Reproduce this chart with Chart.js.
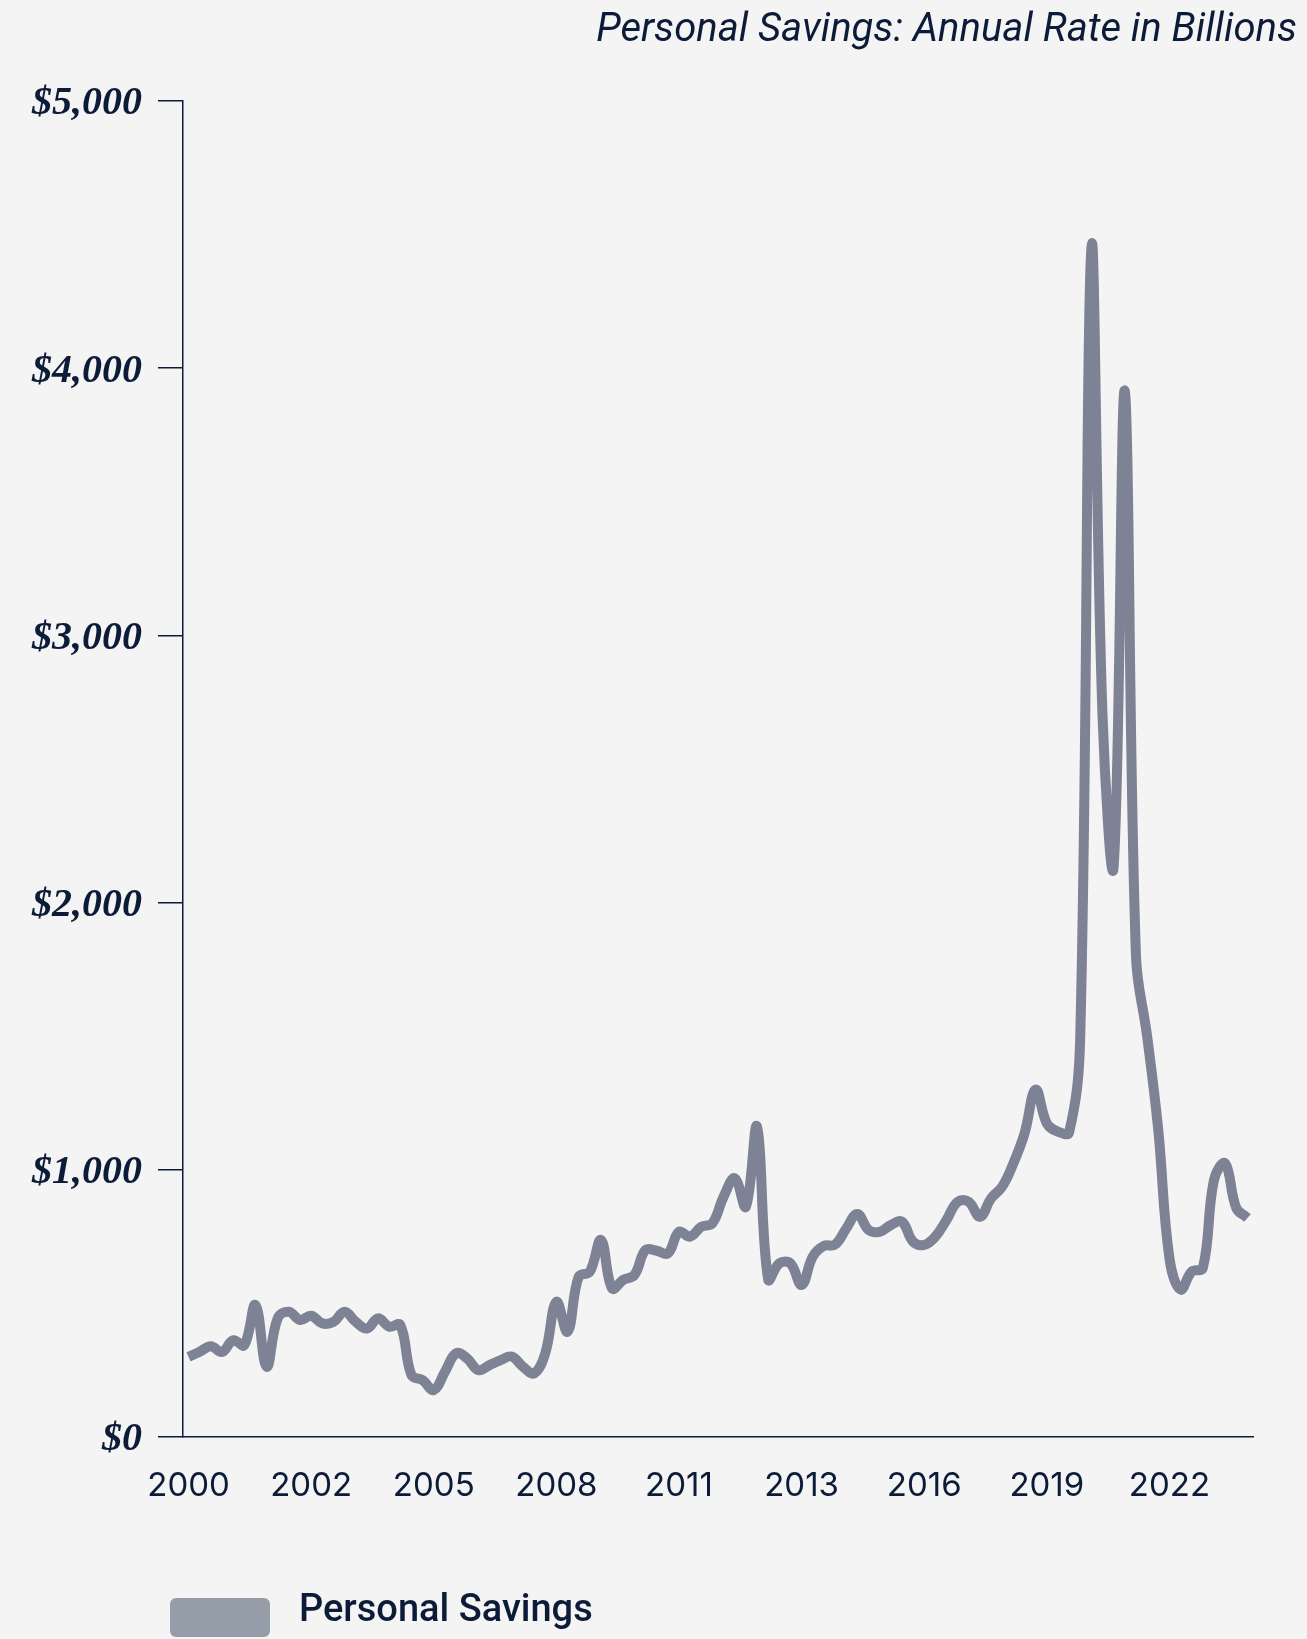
<!DOCTYPE html>
<html>
<head>
<meta charset="utf-8">
<title>Personal Savings</title>
<script src="https://cdn.jsdelivr.net/npm/chart.js@4.4.1/dist/chart.umd.min.js"></script>
<style>
  html, body { margin: 0; padding: 0; background: #f4f4f4; }
  #wrap { width: 1307px; height: 1639px; position: relative; }
</style>
</head>
<body>
<div id="wrap"><canvas id="chart"></canvas></div>
<script>
// quarterly, billions of dollars (annual rate), 2000 Q1 .. 2023 Q4
const firstYear = 2000
const lastYear = 2023

const savings2000s = [
  300, 319, 340, 318,   // 2000
  362, 344, 494, 263,   // 2001
  445, 469, 438, 454,   // 2002
  425, 431, 469, 431,   // 2003
  406, 444, 413, 419,   // 2004
  232, 213, 176, 244,   // 2005
  313, 294, 250, 269,   // 2006
  288, 301, 263, 238,   // 2007
  313, 506, 394, 600,   // 2008
  619, 737, 556, 588    // 2009
]
const savings2010s = [
  606, 700, 697, 687,   // 2010
  768, 750, 787, 800,   // 2011
  899, 968, 862, 1161,  // 2012
  590, 650, 650, 569,   // 2013
  675, 715, 720, 780,   // 2014
  835, 775, 768, 793,   // 2015
  806, 731, 719, 750,   // 2016
  812, 880, 880, 824,   // 2017
  893, 937, 1024, 1136, // 2018
  1300, 1174, 1143, 1140 // 2019
]
const savings2020s = [
  1500, 4450, 2700, 2137, // 2020
  3915, 1800, 1500, 1149, // 2021
  670, 552, 619, 632,     // 2022
  962, 1024, 857, 820     // 2023
]

const xTickLabels = ["2000", "2002", "2005", "2008", "2011", "2013", "2016", "2019", "2022"]
const xTickEvery = 11
const yTickValues = [0, 1000, 2000, 3000, 4000, 5000]

const quarters = []
for (let y = firstYear; y <= lastYear; y++) {
  for (let q = 1; q <= 4; q++) quarters.push(y + " Q" + q)
}
const savings = [...savings2000s, ...savings2010s, ...savings2020s]

const navy = "#0c1b38"
const lineColor = "#7d8294"
const legendColor = "#959ea8"

// legend swatch drawn as a point style image, so it can sit a bit left of the label slot
function legendSwatch() {
  const swatch = document.createElement("canvas")
  swatch.width = 240
  swatch.height = 54
  const context = swatch.getContext("2d")
  context.fillStyle = legendColor
  context.beginPath()
  context.roundRect(140, 14, 100, 39, 6)
  context.fill()
  return swatch
}
const swatch = legendSwatch()

new Chart(document.getElementById("chart"), {
  type: "line",
  data: {
    labels: quarters,
    datasets: [{
      label: "Personal Savings",
      data: savings,
      borderColor: lineColor,
      backgroundColor: legendColor,
      borderWidth: 10,
      pointRadius: 0,
      pointHoverRadius: 0,
      tension: 0.4,
      fill: false
    }]
  },
  options: {
    responsive: true,
    maintainAspectRatio: false,
    devicePixelRatio: 1,
    animation: false,
    layout: {
      padding: { top: 0, left: 10, right: 10, bottom: -1 }
    },
    scales: {
      x: {
        offset: true,
        grid: { display: false },
        border: { display: true, color: navy, width: 1.5 },
        ticks: {
          autoSkip: false,
          maxRotation: 0,
          padding: 21,
          color: navy,
          font: { family: "Inter", size: 33, weight: 400 },
          callback: (value, index) => index % xTickEvery === 0 ? xTickLabels[index / xTickEvery] : null
        },
        afterFit: (scale) => {
          scale.height = 145
          scale.paddingRight = 54
        }
      },
      y: {
        min: 0,
        max: 5000,
        grid: {
          drawOnChartArea: false,
          drawTicks: true,
          tickLength: 25,
          color: navy,
          lineWidth: 1.5
        },
        border: { display: true, color: navy, width: 1.5 },
        afterBuildTicks: (scale) => {
          scale.ticks = yTickValues.map(value => ({ value }))
        },
        ticks: {
          padding: 16,
          labelOffset: 3,
          color: navy,
          font: { family: "Liberation Serif", size: 40, style: "italic", weight: "bold" },
          callback: (value) => "$" + value.toLocaleString("en-US")
        },
        afterFit: (scale) => {
          scale.width = 173
        }
      }
    },
    plugins: {
      tooltip: { enabled: false },
      title: {
        display: true,
        text: "Personal Savings: Annual Rate in Billions",
        align: "end",
        color: navy,
        font: { family: "Roboto", size: 40, style: "italic", weight: 400, lineHeight: 1.2 },
        padding: { top: 7, bottom: 46 }
      },
      legend: {
        display: true,
        position: "bottom",
        align: "start",
        labels: {
          usePointStyle: true,
          pointStyleWidth: 260,
          boxHeight: 39,
          padding: 10,
          color: navy,
          font: { family: "Roboto", size: 38, weight: 500 },
          generateLabels: (chart) =>
            Chart.defaults.plugins.legend.labels.generateLabels(chart).map(item => ({
              ...item,
              pointStyle: swatch,
              lineWidth: 0
            }))
        }
      }
    }
  }
})
</script>
</body>
</html>
